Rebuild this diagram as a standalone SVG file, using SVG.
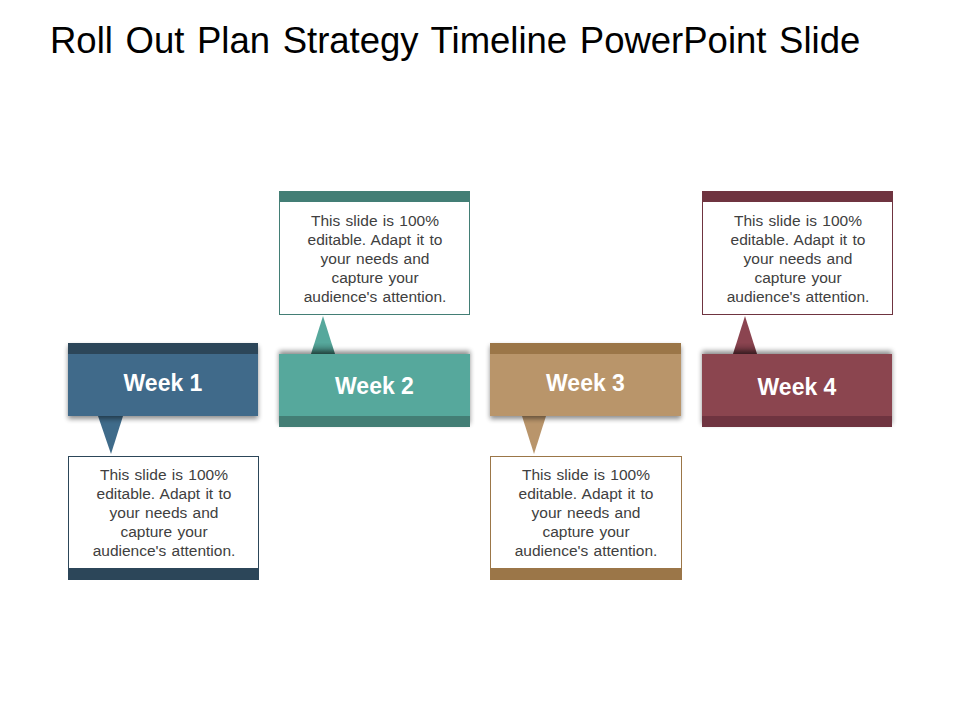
<svg xmlns="http://www.w3.org/2000/svg" width="960" height="720" viewBox="0 0 960 720">
<defs>
<filter id="shDown" x="-10%" y="-20%" width="120%" height="150%">
<feGaussianBlur in="SourceAlpha" stdDeviation="2.5"/>
<feOffset dx="0" dy="3" result="b"/>
<feComponentTransfer><feFuncA type="linear" slope="0.45"/></feComponentTransfer>
<feMerge><feMergeNode/><feMergeNode in="SourceGraphic"/></feMerge>
</filter>
<filter id="shUp" x="-10%" y="-30%" width="120%" height="150%">
<feGaussianBlur in="SourceAlpha" stdDeviation="2.5"/>
<feOffset dx="0" dy="-3" result="b"/>
<feComponentTransfer><feFuncA type="linear" slope="0.45"/></feComponentTransfer>
<feMerge><feMergeNode/><feMergeNode in="SourceGraphic"/></feMerge>
</filter>
<linearGradient id="triShade" x1="0" y1="0" x2="0" y2="1">
<stop offset="0" stop-color="#000" stop-opacity="0"/>
<stop offset="0.7" stop-color="#000" stop-opacity="0"/>
<stop offset="1" stop-color="#000" stop-opacity="0.3"/>
</linearGradient>
</defs>
<style>
.title{font-family:"Liberation Sans",Arial,sans-serif;font-size:36.5px;word-spacing:2.5px;fill:#000}
.wk{font-family:"Liberation Sans",Arial,sans-serif;font-size:23px;font-weight:bold;fill:#fff;text-anchor:middle}
.body{font-family:"Liberation Sans",Arial,sans-serif;font-size:15.5px;word-spacing:1px;fill:#404040;text-anchor:middle}
.tb{fill:#fff;stroke-width:1}
</style>
<rect width="960" height="720" fill="#fff"/>
<text class="title" x="50" y="53">Roll Out Plan Strategy Timeline PowerPoint Slide</text>

<g id="connectors">
<polygon points="98,416 123,416 111,454" fill="#3f6b8a"/>
<polygon points="311,354 335,354 323,316" fill="#56a89c"/>
<polygon points="311,354 335,354 323,316" fill="url(#triShade)"/>
<polygon points="522,416 546,416 534,454" fill="#b9956b"/>
<polygon points="733,354 757,354 745,316" fill="#8b4450"/>
<polygon points="733,354 757,354 745,316" fill="url(#triShade)"/>
</g>

<g id="week1">
<g filter="url(#shDown)">
<rect x="68" y="343" width="190" height="73" fill="#3f6b8a"/>
</g>
<rect x="68" y="343" width="190" height="11" fill="#2c4659"/>
<text class="wk" x="163" y="391">Week 1</text>
</g>
<g id="note1">
<rect class="tb" x="68.5" y="456.5" width="190" height="112" stroke="#2c4659"/>
<rect x="68" y="568" width="191" height="12" fill="#2c4659"/>
<text class="body" x="164" y="480">This slide is 100%</text>
<text class="body" x="164" y="499">editable. Adapt it to</text>
<text class="body" x="164" y="518">your needs and</text>
<text class="body" x="164" y="537">capture your</text>
<text class="body" x="164" y="556">audience's attention.</text>
</g>

<g id="week2">
<g filter="url(#shUp)">
<rect x="279" y="354" width="191" height="73" fill="#56a89c"/>
</g>
<rect x="279" y="416" width="191" height="11" fill="#437e75"/>
<text class="wk" x="374.5" y="394">Week 2</text>
</g>
<g id="note2">
<rect class="tb" x="279.5" y="201.5" width="190" height="113" stroke="#437e75"/>
<rect x="279" y="191" width="191" height="11" fill="#437e75"/>
<text class="body" x="375" y="226">This slide is 100%</text>
<text class="body" x="375" y="245">editable. Adapt it to</text>
<text class="body" x="375" y="264">your needs and</text>
<text class="body" x="375" y="283">capture your</text>
<text class="body" x="375" y="302">audience's attention.</text>
</g>

<g id="week3">
<g filter="url(#shDown)">
<rect x="490" y="343" width="191" height="73" fill="#b9956b"/>
</g>
<rect x="490" y="343" width="191" height="11" fill="#9b7648"/>
<text class="wk" x="585.5" y="391">Week 3</text>
</g>
<g id="note3">
<rect class="tb" x="490.5" y="456.5" width="191" height="112" stroke="#9b7648"/>
<rect x="490" y="568" width="192" height="12" fill="#9b7648"/>
<text class="body" x="586" y="480">This slide is 100%</text>
<text class="body" x="586" y="499">editable. Adapt it to</text>
<text class="body" x="586" y="518">your needs and</text>
<text class="body" x="586" y="537">capture your</text>
<text class="body" x="586" y="556">audience's attention.</text>
</g>

<g id="week4">
<g filter="url(#shUp)">
<rect x="702" y="354" width="190" height="73" fill="#8b4450"/>
</g>
<rect x="702" y="416" width="190" height="11" fill="#6f3440"/>
<text class="wk" x="797" y="395">Week 4</text>
</g>
<g id="note4">
<rect class="tb" x="702.5" y="201.5" width="190" height="113" stroke="#6f3440"/>
<rect x="702" y="191" width="191" height="11" fill="#6f3440"/>
<text class="body" x="798" y="226">This slide is 100%</text>
<text class="body" x="798" y="245">editable. Adapt it to</text>
<text class="body" x="798" y="264">your needs and</text>
<text class="body" x="798" y="283">capture your</text>
<text class="body" x="798" y="302">audience's attention.</text>
</g>
</svg>
